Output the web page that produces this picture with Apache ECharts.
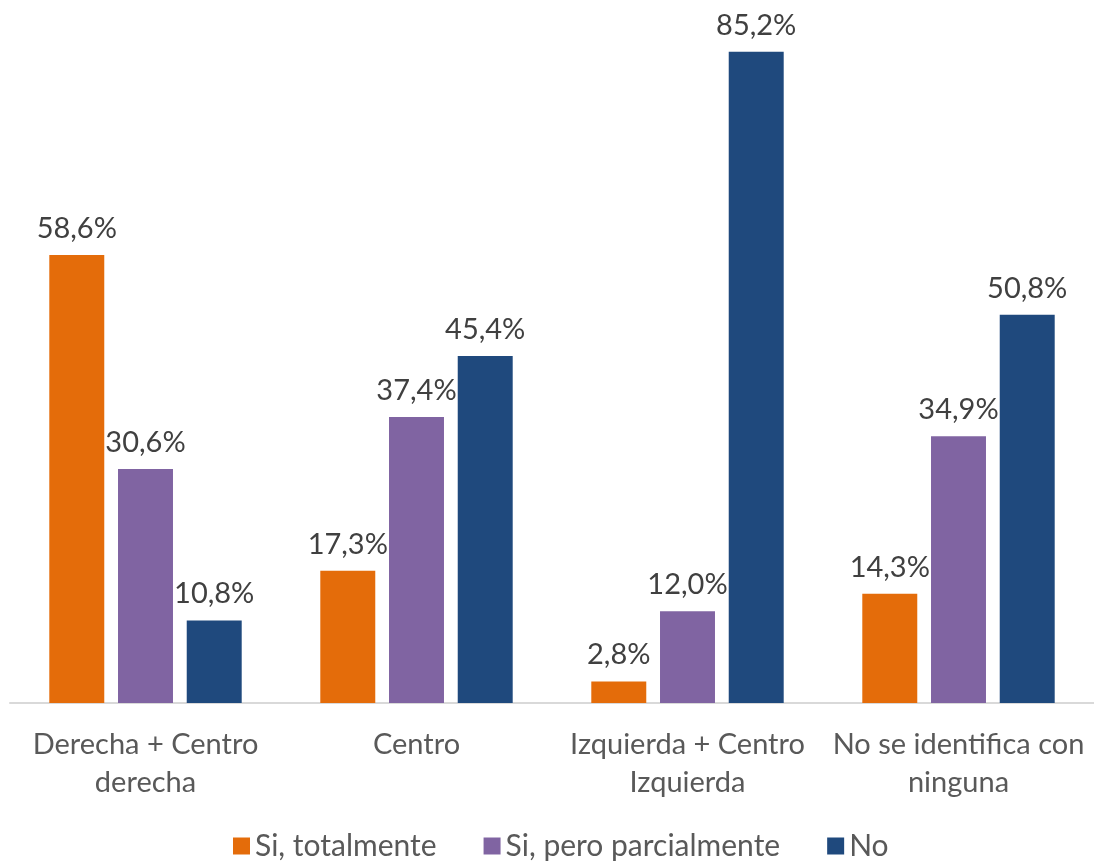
<!DOCTYPE html>
<html><head><meta charset="utf-8">
<script src="https://cdn.jsdelivr.net/npm/echarts@6/dist/echarts.min.js"></script>
<style>html,body{margin:0;padding:0;background:#fff}#c{width:1094px;height:863px}</style>
</head><body><div id="c"></div>
<script>
const categories = ['Derecha + Centro\nderecha', 'Centro', 'Izquierda + Centro\nIzquierda', 'No se identifica con\nninguna'];
const seriesNames = ['Si, totalmente', 'Si, pero parcialmente', 'No'];
const totalmente = [58.6, 17.3, 2.8, 14.3];
const parcialmente = [30.6, 37.4, 12.0, 34.9];
const no = [10.8, 45.4, 85.2, 50.8];
const colors = ['#E46C0A', '#8064A2', '#1F497D'];
const FONT = 'Lato, "Open Sans", sans-serif';

const chart = echarts.init(document.getElementById('c'), null, {renderer: 'canvas'});
const fmt = p => p.value.toFixed(1).replace('.', ',') + '%';
const mk = (name, data, color) => ({
  name, type: 'bar', data, barGap: '25%', barCategoryGap: '29%',
  itemStyle: {color},
  label: {show: true, position: 'top', distance: 12, formatter: fmt,
    color: '#404040', fontSize: 29, fontFamily: FONT}
});
chart.setOption({
  animation: false,
  color: colors,
  grid: {left: 10, width: 1089, top: 15, bottom: 160, containLabel: false},
  xAxis: {type: 'category', data: categories,
    axisLine: {lineStyle: {color: '#D9D9D9', width: 2}},
    axisTick: {show: false},
    axisLabel: {color: '#595959', fontSize: 29, fontFamily: FONT, margin: 23, lineHeight: 38, interval: 0}},
  yAxis: {type: 'value', min: 0, max: 90, show: false, splitLine: {show: false}},
  legend: {top: 826, left: 228, itemWidth: 17, itemHeight: 17, itemGap: 47,
    icon: 'rect',
    textStyle: {color: '#595959', fontSize: 30, fontFamily: FONT},
    data: seriesNames},
  series: [mk(seriesNames[0], totalmente, colors[0]), mk(seriesNames[1], parcialmente, colors[1]), mk(seriesNames[2], no, colors[2])]
});
</script></body></html>
